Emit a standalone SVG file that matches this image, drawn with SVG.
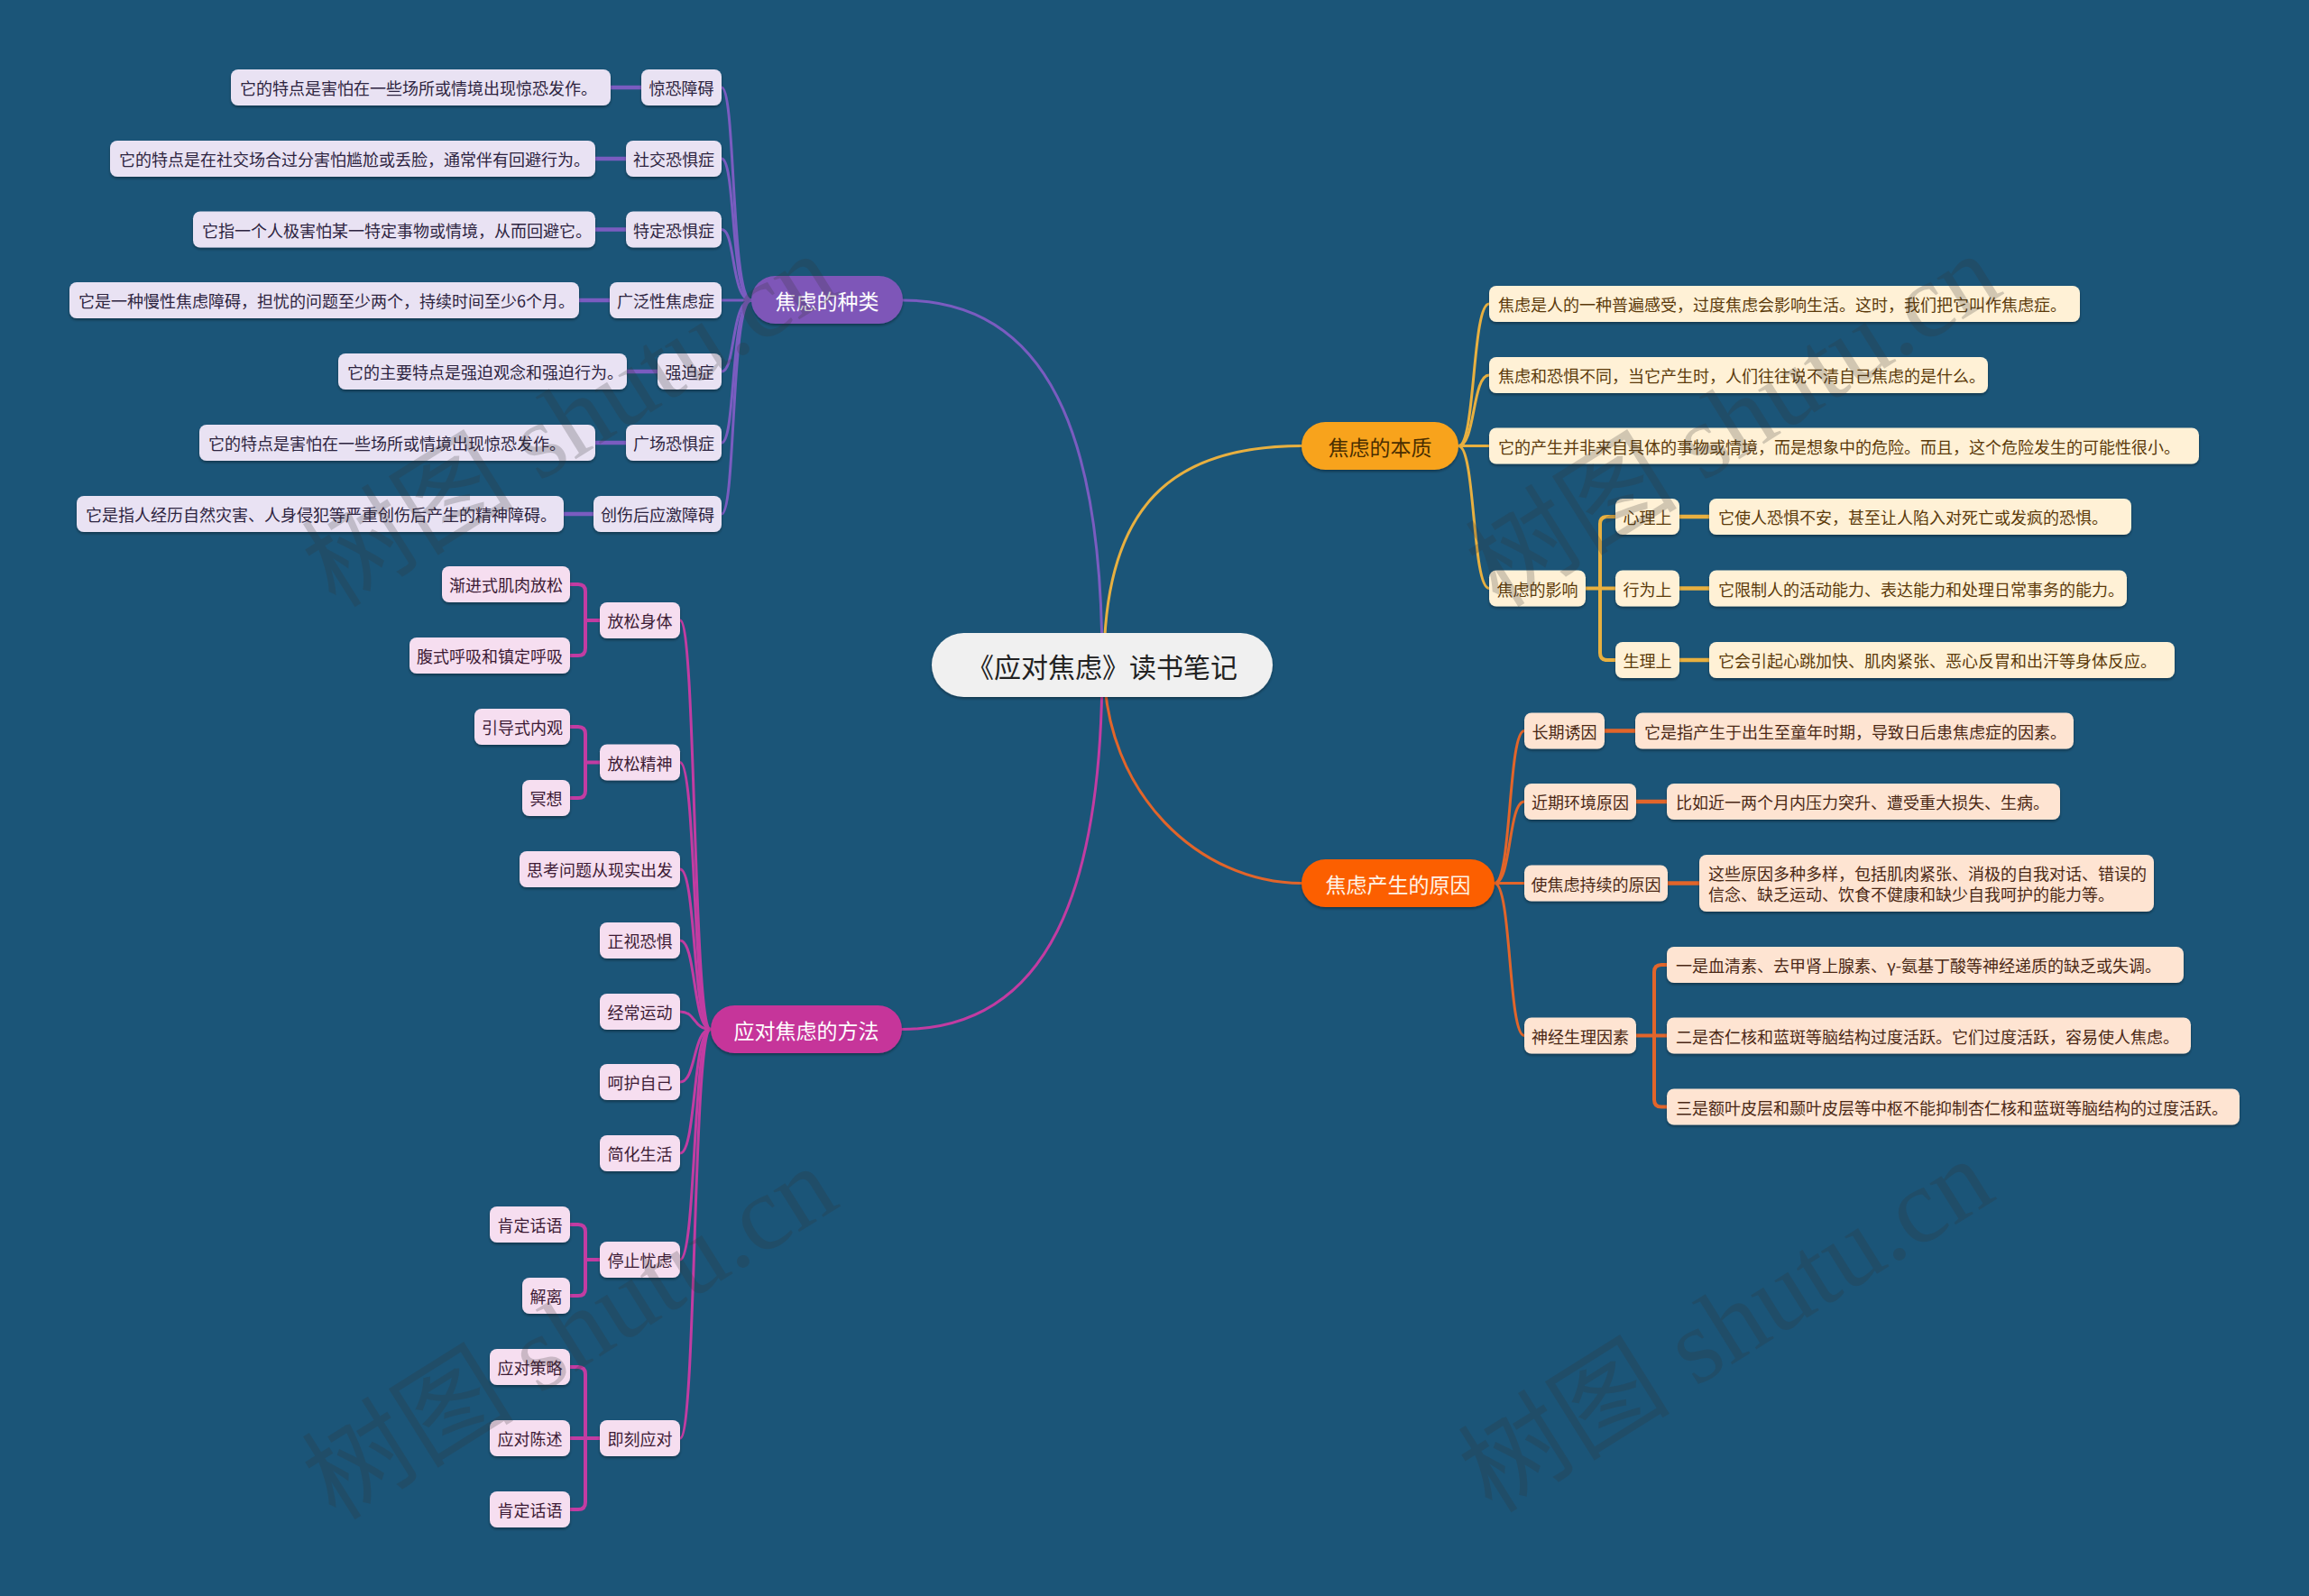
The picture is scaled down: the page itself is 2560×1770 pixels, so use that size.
<svg xmlns="http://www.w3.org/2000/svg" width="2560" height="1770" viewBox="0 0 2560 1770">
<defs>
<filter id="sh" x="-10%" y="-20%" width="120%" height="160%"><feDropShadow dx="0" dy="2" stdDeviation="1.5" flood-color="#000" flood-opacity="0.35"/></filter>
<style>
text{font-family:"Noto Sans CJK SC","Noto Sans",sans-serif;}
.t{font-size:18px;dominant-baseline:central;}
.m{text-anchor:middle;}
.main{font-size:23px;dominant-baseline:central;text-anchor:middle;}
.c{fill:none;stroke-linecap:round;}
.pu{fill:#E9E2F3;filter:url(#sh);}
.pk{fill:#F6DEF0;filter:url(#sh);}
.cr{fill:#FFF1D6;filter:url(#sh);}
.pe{fill:#FEE4D2;filter:url(#sh);}
.tpu{fill:#2d2440;}
.tpk{fill:#3d1b35;}
.tcr{fill:#5b3a0a;}
.tpe{fill:#4a2815;}
.wm{font-family:"Liberation Serif","Noto Sans CJK SC",serif;font-size:118px;fill:#333;opacity:0.22;text-anchor:middle;}
</style>
</defs>
<rect width="2560" height="1770" fill="#1B5578"/>

<g id="connectors">
<!-- main -->
<path class="c" stroke="#7A5CC0" stroke-width="3" d="M1222,737 C1222,520 1180,333 1001,333"/>
<path class="c" stroke="#E8B040" stroke-width="3" d="M1224,737 C1224,560 1300,494.5 1443,494.5"/>
<path class="c" stroke="#C23CA2" stroke-width="3" d="M1222,737 C1222,950 1180,1141.5 1000,1141.5"/>
<path class="c" stroke="#E2652A" stroke-width="3" d="M1224,737 C1224,880 1330,979.5 1443,979.5"/>
<!-- types -->
<g stroke="#7A5CC0" stroke-width="3" class="c">
<path d="M800,97 C816,97 810,333 833,333"/>
<path d="M800,176 C816,176 810,333 833,333"/>
<path d="M800,254.5 C816,254.5 810,333 833,333"/>
<path d="M800,333 H833"/>
<path d="M800,412 C816,412 810,333 833,333"/>
<path d="M800,491 C816,491 810,333 833,333"/>
<path d="M800,570 C816,570 810,333 833,333"/>
</g>
<g stroke="#7A5CC0" stroke-width="4.5">
<path d="M677,97 H711"/>
<path d="M660,176 H694"/>
<path d="M660,254.5 H694"/>
<path d="M642,333 H676"/>
<path d="M695,412 H729"/>
<path d="M660,491 H694"/>
<path d="M625,570 H658"/>
</g>
<!-- methods -->
<g stroke="#C23CA2" stroke-width="3" class="c">
<path d="M754,688 C772,688 768,1141.5 788,1141.5"/>
<path d="M754,845.5 C772,845.5 768,1141.5 788,1141.5"/>
<path d="M754,964 C772,964 768,1141.5 788,1141.5"/>
<path d="M754,1043 C772,1043 768,1141.5 788,1141.5"/>
<path d="M754,1122 C772,1122 768,1141.5 788,1141.5"/>
<path d="M754,1200 C772,1200 768,1141.5 788,1141.5"/>
<path d="M754,1279 C772,1279 768,1141.5 788,1141.5"/>
<path d="M754,1397 C772,1397 768,1141.5 788,1141.5"/>
<path d="M754,1595 C772,1595 768,1141.5 788,1141.5"/>
</g>
<g stroke="#C23CA2" stroke-width="4" fill="none">
<path d="M632,648 H641 Q649,648 649,656 V719 Q649,727 641,727 H632 M649,688 H665"/>
<path d="M632,806 H641 Q649,806 649,814 V877 Q649,885 641,885 H632 M649,845.5 H665"/>
<path d="M632,1358 H641 Q649,1358 649,1366 V1429 Q649,1437 641,1437 H632 M649,1397 H665"/>
<path d="M632,1516 H641 Q649,1516 649,1524 V1666 Q649,1674 641,1674 H632 M632,1595 H665"/>
</g>
<!-- essence -->
<g stroke="#E8B040" stroke-width="3" class="c">
<path d="M1617,494.5 C1636,494.5 1632,337 1651,337"/>
<path d="M1617,494.5 C1636,494.5 1632,416 1651,416"/>
<path d="M1617,494.5 H1651"/>
<path d="M1617,494.5 C1636,494.5 1632,652.5 1651,652.5"/>
</g>
<g stroke="#E8B040" stroke-width="4" fill="none">
<path d="M1791,573 H1782 Q1774,573 1774,581 V724 Q1774,732 1782,732 H1791 M1758,652.5 H1791"/>
<path d="M1862,573 H1895 M1862,652.5 H1895 M1862,732 H1895" stroke-width="4.5"/>
</g>
<!-- causes -->
<g stroke="#E2652A" stroke-width="3" class="c">
<path d="M1657,979.5 C1676,979.5 1672,810.5 1690,810.5"/>
<path d="M1657,979.5 C1676,979.5 1672,889 1690,889"/>
<path d="M1657,979.5 H1690"/>
<path d="M1657,979.5 C1676,979.5 1672,1148.5 1690,1148.5"/>
</g>
<g stroke="#E2652A" stroke-width="4" fill="none">
<path d="M1848,1070 H1842 Q1834,1070 1834,1078 V1219.5 Q1834,1227.5 1842,1227.5 H1848 M1814,1148.5 H1848"/>
<path d="M1779,810.5 H1813 M1814,889 H1848 M1849,979.5 H1884" stroke-width="4.5"/>
</g>
</g>

<g id="root">
<rect x="1033" y="702" width="378" height="71" rx="35.5" fill="#F0F0F0" filter="url(#sh)"/>
<text x="1222" y="737.5" style="font-size:30px;dominant-baseline:central;text-anchor:middle;fill:#222">《应对焦虑》读书笔记</text>
</g>

<g id="types">
<rect x="833" y="306" width="168" height="53" rx="26.5" fill="#7E57B8" filter="url(#sh)"/>
<text class="main" x="917" y="332.5" fill="#fff">焦虑的种类</text>
</g>
<g id="t1"><rect class="pu" x="711" y="77" width="89" height="40" rx="8"/><text class="t m tpu" x="755.5" y="97">惊恐障碍</text></g>
<g id="t1d"><rect class="pu" x="256" y="77" width="421" height="40" rx="8"/><text class="t tpu" x="266" y="97">它的特点是害怕在一些场所或情境出现惊恐发作。</text></g>
<g id="t2"><rect class="pu" x="694" y="156" width="106" height="40" rx="8"/><text class="t m tpu" x="747" y="176">社交恐惧症</text></g>
<g id="t2d"><rect class="pu" x="122" y="156" width="538" height="40" rx="8"/><text class="t tpu" x="132" y="176">它的特点是在社交场合过分害怕尴尬或丢脸，通常伴有回避行为。</text></g>
<g id="t3"><rect class="pu" x="694" y="234.5" width="106" height="40" rx="8"/><text class="t m tpu" x="747" y="254.5">特定恐惧症</text></g>
<g id="t3d"><rect class="pu" x="214" y="234.5" width="446" height="40" rx="8"/><text class="t tpu" x="224" y="254.5">它指一个人极害怕某一特定事物或情境，从而回避它。</text></g>
<g id="t4"><rect class="pu" x="676" y="313" width="124" height="40" rx="8"/><text class="t m tpu" x="738" y="333">广泛性焦虑症</text></g>
<g id="t4d"><rect class="pu" x="77" y="313" width="565" height="40" rx="8"/><text class="t tpu" x="87" y="333">它是一种慢性焦虑障碍，担忧的问题至少两个，持续时间至少6个月。</text></g>
<g id="t5"><rect class="pu" x="729" y="392" width="71" height="40" rx="8"/><text class="t m tpu" x="764.5" y="412">强迫症</text></g>
<g id="t5d"><rect class="pu" x="375" y="392" width="320" height="40" rx="8"/><text class="t tpu" x="385" y="412">它的主要特点是强迫观念和强迫行为。</text></g>
<g id="t6"><rect class="pu" x="694" y="471" width="106" height="40" rx="8"/><text class="t m tpu" x="747" y="491">广场恐惧症</text></g>
<g id="t6d"><rect class="pu" x="221" y="471" width="439" height="40" rx="8"/><text class="t tpu" x="231" y="491">它的特点是害怕在一些场所或情境出现惊恐发作。</text></g>
<g id="t7"><rect class="pu" x="658" y="550" width="142" height="40" rx="8"/><text class="t m tpu" x="729" y="570">创伤后应激障碍</text></g>
<g id="t7d"><rect class="pu" x="85" y="550" width="540" height="40" rx="8"/><text class="t tpu" x="95" y="570">它是指人经历自然灾害、人身侵犯等严重创伤后产生的精神障碍。</text></g>

<g id="methods">
<rect x="788" y="1115" width="212" height="53" rx="26.5" fill="#C6359A" filter="url(#sh)"/>
<text class="main" x="894" y="1141.5" fill="#fff">应对焦虑的方法</text>
</g>
<g id="m1"><rect class="pk" x="665" y="668" width="89" height="40" rx="8"/><text class="t m tpk" x="709.5" y="688">放松身体</text></g>
<g id="m1a"><rect class="pk" x="490" y="628" width="142" height="40" rx="8"/><text class="t m tpk" x="561" y="648">渐进式肌肉放松</text></g>
<g id="m1b"><rect class="pk" x="454" y="707" width="178" height="40" rx="8"/><text class="t m tpk" x="543" y="727">腹式呼吸和镇定呼吸</text></g>
<g id="m2"><rect class="pk" x="665" y="825.5" width="89" height="40" rx="8"/><text class="t m tpk" x="709.5" y="845.5">放松精神</text></g>
<g id="m2a"><rect class="pk" x="526" y="786" width="106" height="40" rx="8"/><text class="t m tpk" x="579" y="806">引导式内观</text></g>
<g id="m2b"><rect class="pk" x="579" y="865" width="53" height="40" rx="8"/><text class="t m tpk" x="605.5" y="885">冥想</text></g>
<g id="m3"><rect class="pk" x="576" y="944" width="178" height="40" rx="8"/><text class="t m tpk" x="665" y="964">思考问题从现实出发</text></g>
<g id="m4"><rect class="pk" x="665" y="1023" width="89" height="40" rx="8"/><text class="t m tpk" x="709.5" y="1043">正视恐惧</text></g>
<g id="m5"><rect class="pk" x="665" y="1102" width="89" height="40" rx="8"/><text class="t m tpk" x="709.5" y="1122">经常运动</text></g>
<g id="m6"><rect class="pk" x="665" y="1180" width="89" height="40" rx="8"/><text class="t m tpk" x="709.5" y="1200">呵护自己</text></g>
<g id="m7"><rect class="pk" x="665" y="1259" width="89" height="40" rx="8"/><text class="t m tpk" x="709.5" y="1279">简化生活</text></g>
<g id="m8"><rect class="pk" x="665" y="1377" width="89" height="40" rx="8"/><text class="t m tpk" x="709.5" y="1397">停止忧虑</text></g>
<g id="m8a"><rect class="pk" x="543" y="1338" width="89" height="40" rx="8"/><text class="t m tpk" x="587.5" y="1358">肯定话语</text></g>
<g id="m8b"><rect class="pk" x="579" y="1417" width="53" height="40" rx="8"/><text class="t m tpk" x="605.5" y="1437">解离</text></g>
<g id="m9"><rect class="pk" x="665" y="1575" width="89" height="40" rx="8"/><text class="t m tpk" x="709.5" y="1595">即刻应对</text></g>
<g id="m9a"><rect class="pk" x="543" y="1496" width="89" height="40" rx="8"/><text class="t m tpk" x="587.5" y="1516">应对策略</text></g>
<g id="m9b"><rect class="pk" x="543" y="1575" width="89" height="40" rx="8"/><text class="t m tpk" x="587.5" y="1595">应对陈述</text></g>
<g id="m9c"><rect class="pk" x="543" y="1654" width="89" height="40" rx="8"/><text class="t m tpk" x="587.5" y="1674">肯定话语</text></g>

<g id="essence">
<rect x="1443" y="468" width="174" height="53" rx="26.5" fill="#F8A31E" filter="url(#sh)"/>
<text class="main" x="1530" y="494.5" fill="#4a2e00">焦虑的本质</text>
</g>
<g id="e1"><rect class="cr" x="1651" y="317" width="655" height="40" rx="8"/><text class="t tcr" x="1661" y="337">焦虑是人的一种普遍感受，过度焦虑会影响生活。这时，我们把它叫作焦虑症。</text></g>
<g id="e2"><rect class="cr" x="1651" y="396" width="553" height="40" rx="8"/><text class="t tcr" x="1661" y="416">焦虑和恐惧不同，当它产生时，人们往往说不清自己焦虑的是什么。</text></g>
<g id="e3"><rect class="cr" x="1651" y="474.5" width="787" height="40" rx="8"/><text class="t tcr" x="1661" y="494.5">它的产生并非来自具体的事物或情境，而是想象中的危险。而且，这个危险发生的可能性很小。</text></g>
<g id="e4"><rect class="cr" x="1651" y="632.5" width="107" height="40" rx="8"/><text class="t m tcr" x="1704.5" y="652.5">焦虑的影响</text></g>
<g id="e4a"><rect class="cr" x="1791" y="553" width="71" height="40" rx="8"/><text class="t m tcr" x="1826.5" y="573">心理上</text></g>
<g id="e4ad"><rect class="cr" x="1895" y="553" width="468" height="40" rx="8"/><text class="t tcr" x="1905" y="573">它使人恐惧不安，甚至让人陷入对死亡或发疯的恐惧。</text></g>
<g id="e4b"><rect class="cr" x="1791" y="632.5" width="71" height="40" rx="8"/><text class="t m tcr" x="1826.5" y="652.5">行为上</text></g>
<g id="e4bd"><rect class="cr" x="1895" y="632.5" width="463" height="40" rx="8"/><text class="t tcr" x="1905" y="652.5">它限制人的活动能力、表达能力和处理日常事务的能力。</text></g>
<g id="e4c"><rect class="cr" x="1791" y="712" width="71" height="40" rx="8"/><text class="t m tcr" x="1826.5" y="732">生理上</text></g>
<g id="e4cd"><rect class="cr" x="1895" y="712" width="516" height="40" rx="8"/><text class="t tcr" x="1905" y="732">它会引起心跳加快、肌肉紧张、恶心反胃和出汗等身体反应。</text></g>

<g id="causes">
<rect x="1443" y="953" width="214" height="53" rx="26.5" fill="#FC5E06" filter="url(#sh)"/>
<text class="main" x="1550" y="979.5" fill="#FFF3E6">焦虑产生的原因</text>
</g>
<g id="c1"><rect class="pe" x="1690" y="790.5" width="89" height="40" rx="8"/><text class="t m tpe" x="1734.5" y="810.5">长期诱因</text></g>
<g id="c1d"><rect class="pe" x="1813" y="790.5" width="486" height="40" rx="8"/><text class="t tpe" x="1823" y="810.5">它是指产生于出生至童年时期，导致日后患焦虑症的因素。</text></g>
<g id="c2"><rect class="pe" x="1690" y="869" width="124" height="40" rx="8"/><text class="t m tpe" x="1752" y="889">近期环境原因</text></g>
<g id="c2d"><rect class="pe" x="1848" y="869" width="436" height="40" rx="8"/><text class="t tpe" x="1858" y="889">比如近一两个月内压力突升、遭受重大损失、生病。</text></g>
<g id="c3"><rect class="pe" x="1690" y="959.5" width="159" height="40" rx="8"/><text class="t m tpe" x="1769.5" y="979.5">使焦虑持续的原因</text></g>
<g id="c3d"><rect class="pe" x="1884" y="948" width="504" height="63" rx="8"/><text class="t tpe" x="1894" y="968">这些原因多种多样，包括肌肉紧张、消极的自我对话、错误的</text><text class="t tpe" x="1894" y="991">信念、缺乏运动、饮食不健康和缺少自我呵护的能力等。</text></g>
<g id="c4"><rect class="pe" x="1690" y="1128.5" width="124" height="40" rx="8"/><text class="t m tpe" x="1752" y="1148.5">神经生理因素</text></g>
<g id="c4a"><rect class="pe" x="1848" y="1050" width="573" height="40" rx="8"/><text class="t tpe" x="1858" y="1070">一是血清素、去甲肾上腺素、γ-氨基丁酸等神经递质的缺乏或失调。</text></g>
<g id="c4b"><rect class="pe" x="1848" y="1128.5" width="581" height="40" rx="8"/><text class="t tpe" x="1858" y="1148.5">二是杏仁核和蓝斑等脑结构过度活跃。它们过度活跃，容易使人焦虑。</text></g>
<g id="c4c"><rect class="pe" x="1848" y="1207.5" width="635" height="40" rx="8"/><text class="t tpe" x="1858" y="1227.5">三是额叶皮层和颞叶皮层等中枢不能抑制杏仁核和蓝斑等脑结构的过度活跃。</text></g>

<g id="watermarks">
<text class="wm" transform="translate(653,500) rotate(-32)">树图 shutu.cn</text>
<text class="wm" transform="translate(1943,500) rotate(-32)">树图 shutu.cn</text>
<text class="wm" transform="translate(653,1512) rotate(-32)">树图 shutu.cn</text>
<text class="wm" transform="translate(1935,1504) rotate(-32)">树图 shutu.cn</text>
</g>
</svg>
